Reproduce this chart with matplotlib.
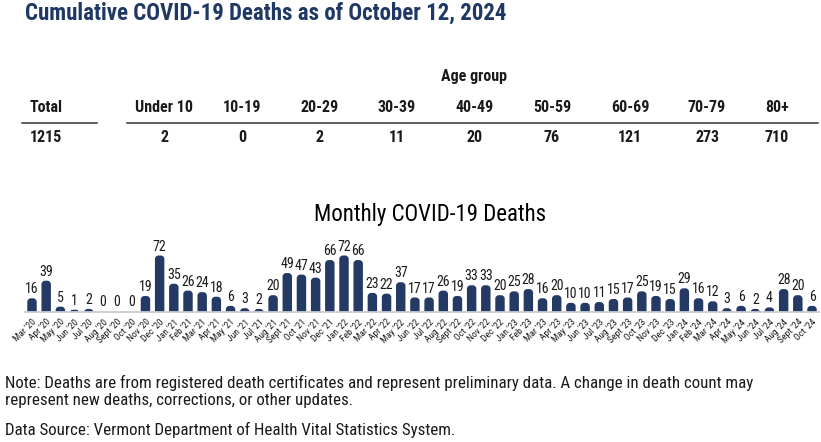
import matplotlib
matplotlib.use("Agg")
import matplotlib.pyplot as plt
from matplotlib import font_manager
from matplotlib.patches import FancyBboxPatch

# pick a narrow font if we have one, otherwise an Arial-like one
names = {f.name for f in font_manager.fontManager.ttflist}
FONT = "Liberation Sans"
for cand in ["Liberation Sans Narrow", "Roboto Condensed", "Open Sans Condensed"]:
    if cand in names:
        FONT = cand
        break
plt.rcParams['font.family'] = [FONT, 'DejaVu Sans']

NAVY = "#243a64"
TITLE_COL = "#1f3864"
TEXT = "#1a1a1a"

# cumulative deaths by age group
total = 1215
age_groups = ["Under 10", "10-19", "20-29", "30-39", "40-49", "50-59", "60-69", "70-79", "80+"]
age_deaths = [2, 0, 2, 11, 20, 76, 121, 273, 710]

# monthly deaths, Mar '20 .. Oct '24
months = ["Mar '20", "Apr '20", "May '20", "Jun '20", "Jul '20", "Aug '20", "Sept '20", "Oct '20", "Nov '20", "Dec '20",
          "Jan '21", "Feb '21", "Mar '21", "Apr '21", "May '21", "Jun '21", "Jul '21", "Aug '21", "Sept '21", "Oct '21", "Nov '21", "Dec '21",
          "Jan '22", "Feb '22", "Mar '22", "Apr '22", "May '22", "Jun '22", "Jul '22", "Aug '22", "Sept '22", "Oct '22", "Nov '22", "Dec '22",
          "Jan '23", "Feb '23", "Mar '23", "Apr '23", "May '23", "Jun '23", "Jul '23", "Aug '23", "Sept '23", "Oct '23", "Nov '23", "Dec '23",
          "Jan '24", "Feb '24", "Mar '24", "Apr '24", "May '24", "Jun '24", "Jul '24", "Aug '24", "Sept '24", "Oct '24"]
deaths = [16, 39, 5, 1, 2, 0, 0, 0, 19, 72,
          35, 26, 24, 18, 6, 3, 2, 20, 49, 47, 43, 66,
          72, 66, 23, 22, 37, 17, 17, 26, 19, 33, 33, 20,
          25, 28, 16, 20, 10, 10, 11, 15, 17, 25, 19, 15,
          29, 16, 12, 3, 6, 2, 4, 28, 20, 6]

W, H = 821, 442
fig = plt.figure(figsize=(W / 100, H / 100), dpi=100)


def px(x, y):
    return x / W, 1 - y / H


# title
fig.text(*px(25, 13), "Cumulative COVID-19 Deaths as of October 12, 2024", fontsize=16.5,
         fontweight="bold", color=TITLE_COL, va="center", ha="left")

# table
TS = 11.5
fig.text(*px(474, 77), "Age group", fontsize=TS, fontweight="bold", color=TEXT, ha="center", va="center")
fig.text(*px(30, 107), "Total", fontsize=TS, fontweight="bold", color=TEXT, ha="left", va="center")
fig.text(*px(30, 137), str(total), fontsize=TS, fontweight="bold", color=TEXT, ha="left", va="center")
col_x = [164, 242, 320, 397, 475, 552, 630, 707, 777]
for cx, g, v in zip(col_x, age_groups, age_deaths):
    fig.text(*px(cx, 107), g, fontsize=TS, fontweight="bold", color=TEXT, ha="center", va="center")
    fig.text(*px(cx, 137), str(v), fontsize=TS, fontweight="bold", color=TEXT, ha="center", va="center")

x0, y0 = px(22, 123)
x1, _ = px(97, 123)
fig.add_artist(plt.Line2D([x0, x1], [y0, y0], color="#333333", lw=1.1))
x0, _ = px(127, 123)
x1, _ = px(818, 123)
fig.add_artist(plt.Line2D([x0, x1], [y0, y0], color="#333333", lw=1.1))

# bar chart
fig.text(*px(430, 214), "Monthly COVID-19 Deaths", fontsize=16.5, color="black", ha="center", va="center")

n = len(deaths)
step = (812 - 32) / (n - 1)
left = 32 - 0.5 * step
right = 812 + 0.5 * step
base_y = 312
ymax = 90
ax_h = ymax * 55 / 72
ax = fig.add_axes([left / W, (H - base_y) / H, (right - left) / W, ax_h / H])
ax.set_xlim(-0.5, n - 0.5)
ax.set_ylim(0, ymax)

bw = 0.45
aspect = (ymax / ax_h) * step  # data y per data x in pixel terms
for i, v in enumerate(deaths):
    if v > 0:
        p = FancyBboxPatch((i - bw / 2, -3), bw, v + 3,
                           boxstyle="round,pad=0,rounding_size=0.15",
                           mutation_aspect=aspect, fc=NAVY, ec=NAVY, lw=2.2,
                           joinstyle="round")
        ax.add_patch(p)
    ax.annotate(str(v), (i, v), xytext=(0, 2.5), textcoords="offset points",
                ha="center", va="bottom", fontsize=10, color=TEXT)

for s in ["top", "right", "left"]:
    ax.spines[s].set_visible(False)
ax.spines["bottom"].set_color("#c8ccd4")
ax.spines["bottom"].set_linewidth(1.3)
ax.spines["bottom"].set_zorder(3)
ax.set_yticks([])
ax.set_xticks(range(n))
ax.set_xticklabels(months, rotation=45, ha="right", rotation_mode="anchor", fontsize=6.8, color=TEXT)
ax.tick_params(axis="x", length=0, pad=4)

# notes
NS = 12.2
fig.text(*px(5, 383), "Note: Deaths are from registered death certificates and represent preliminary data. A change in death count may",
         fontsize=NS, color=TEXT, ha="left", va="center")
fig.text(*px(5, 401), "represent new deaths, corrections, or other updates.", fontsize=NS, color=TEXT, ha="left", va="center")
fig.text(*px(5, 430), "Data Source: Vermont Department of Health Vital Statistics System.", fontsize=NS, color=TEXT,
         ha="left", va="center")

fig.savefig("out.png", dpi=100)
